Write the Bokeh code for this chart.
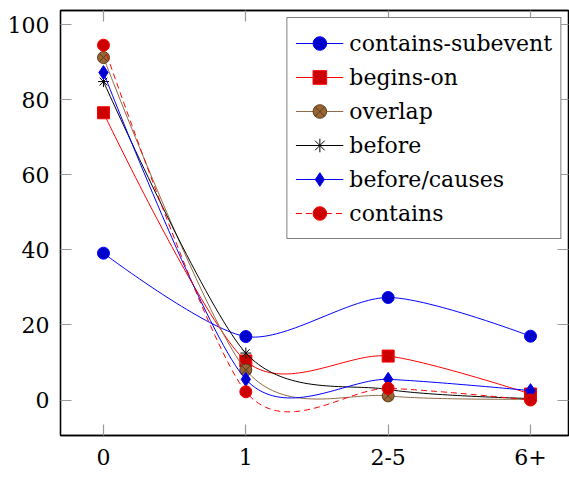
import numpy as np
from bokeh.plotting import figure
from bokeh.models import (Range1d, LinearAxis, FixedTicker, Legend, LegendItem)
from bokeh.embed import file_html
from bokeh.resources import INLINE

# ---- data ----
x_labels = ["0", "1", "2-5", "6+"]
x_pos = [0, 1, 2, 3]
y_ticks = [0, 20, 40, 60, 80, 100]

contains_subevent = [39.1, 16.9, 27.3, 17.0]
begins_on = [76.5, 10.4, 11.7, 1.6]
overlap = [91.2, 8.0, 1.1, 0.2]
before = [84.8, 12.5, 2.8, 0.4]
before_causes = [87.2, 5.5, 5.5, 2.5]
contains = [94.5, 2.2, 3.1, 0.0]

series_names = ["contains-subevent", "begins-on", "overlap", "before",
                "before/causes", "contains"]
series_values = [contains_subevent, begins_on, overlap, before,
                 before_causes, contains]

# pgfplots "color" cycle list styles
styles = [
    dict(line="#0000ff", fill="#0000cc", marker="circle", size=12, dash="solid"),
    dict(line="#ff0000", fill="#cc0000", marker="square", size=12, dash="solid"),
    dict(line="#8f6b47", fill="#996633", marker="circle_x", size=12, dash="solid"),
    dict(line="#000000", fill="#000000", marker="asterisk", size=11, dash="solid"),
    dict(line="#0000ff", fill="#0000cc", marker="diamond", size=14, dash="solid"),
    dict(line="#ff0000", fill="#cc0000", marker="circle", size=12, dash="6 4"),
]


def pgf_smooth(xs, ys, f=0.139, n=40):
    """Cubic Bezier path like TikZ 'smooth' plot handler."""
    P = np.column_stack([np.asarray(xs, float), np.asarray(ys, float)])
    m = len(P)
    out = []
    for i in range(m - 1):
        p0, p3 = P[i], P[i + 1]
        c1 = p0 if i == 0 else p0 + f * (P[i + 1] - P[i - 1])
        c2 = p3 if i == m - 2 else p3 - f * (P[i + 2] - P[i])
        t = np.linspace(0, 1, n)[:, None]
        seg = ((1 - t) ** 3) * p0 + 3 * ((1 - t) ** 2) * t * c1 + \
            3 * (1 - t) * t ** 2 * c2 + t ** 3 * p3
        if i > 0:
            seg = seg[1:]
        out.append(seg)
    arr = np.vstack(out)
    return arr[:, 0], arr[:, 1]


FONT = "DejaVu Serif"

p = figure(width=569, height=477, output_backend="svg", toolbar_location=None,
           x_range=Range1d(-0.302, 3.267), y_range=Range1d(-9.45, 103.73),
           x_axis_location=None, y_axis_location=None,
           min_border_left=60, min_border_right=1, min_border_top=10,
           min_border_bottom=42)
p.grid.visible = False
p.outline_line_color = "black"
p.outline_line_width = 1.3
p.background_fill_color = "white"
p.border_fill_color = "white"

xt = FixedTicker(ticks=x_pos)
yt = FixedTicker(ticks=y_ticks)
x_over = {i: lab for i, lab in zip(x_pos, x_labels)}
x_blank = {i: "" for i in x_pos}
y_blank = {v: "" for v in y_ticks}


def style_axis(ax, standoff):
    ax.axis_line_color = "black"
    ax.axis_line_width = 1.3
    ax.major_tick_in = 11
    ax.major_tick_out = 0
    ax.major_tick_line_color = "#9a9a9a"
    ax.major_tick_line_width = 1.2
    ax.minor_tick_line_color = None
    ax.major_label_text_font = FONT
    ax.major_label_text_color = "black"
    ax.major_label_text_font_size = "22px"
    ax.major_label_standoff = standoff


bx = LinearAxis(ticker=xt, major_label_overrides=x_over)
style_axis(bx, 13)
tx = LinearAxis(ticker=xt, major_label_overrides=x_blank)
style_axis(tx, 0)
ly = LinearAxis(ticker=yt)
style_axis(ly, 11)
ry = LinearAxis(ticker=yt, major_label_overrides=y_blank)
style_axis(ry, 0)
p.add_layout(bx, "below")
p.add_layout(tx, "above")
p.add_layout(ly, "left")
p.add_layout(ry, "right")

items = []
for name, vals, st in zip(series_names, series_values, styles):
    sx, sy = pgf_smooth(x_pos, vals)
    lr = p.line(sx, sy, line_color=st["line"], line_width=1.0,
                line_dash=st["dash"])
    mk = dict(marker=st["marker"], size=st["size"], line_width=1.0)
    if st["marker"] == "asterisk":
        mk.update(line_color=st["line"])
    elif st["marker"] == "circle_x":
        mk.update(fill_color=st["fill"], line_color="#5a3d20")
    else:
        mk.update(fill_color=st["fill"], line_color=st["line"])
    sr = p.scatter(x_pos, vals, **mk)
    items.append(LegendItem(label=name, renderers=[lr, sr]))

legend = Legend(items=items, location="top_right")
legend.label_text_font = FONT
legend.label_text_font_size = "22px"
legend.label_text_color = "black"
legend.label_height = 34
legend.glyph_height = 34
legend.glyph_width = 48
legend.label_standoff = 6
legend.spacing = 0
legend.padding = 8
legend.margin = 7
legend.border_line_color = "black"
legend.border_line_width = 1.2
legend.background_fill_color = "white"
legend.background_fill_alpha = 1.0
p.add_layout(legend, "center")

open("out.html", "w").write(file_html(p, INLINE))
